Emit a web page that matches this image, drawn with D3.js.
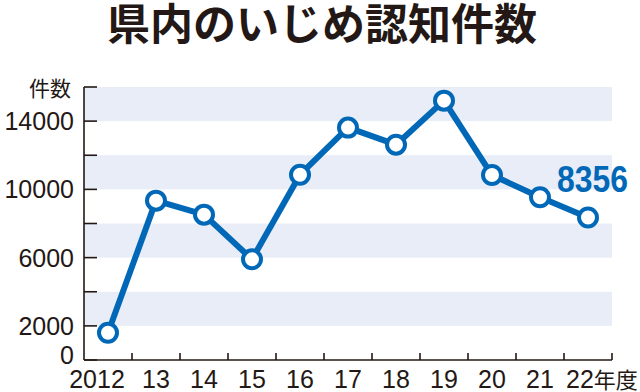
<!DOCTYPE html>
<html><head><meta charset="utf-8">
<script src="https://cdn.jsdelivr.net/npm/d3@7/dist/d3.min.js"></script>
<style>body{margin:0;background:#fff}svg{display:block}</style>
</head><body><svg id="c" width="640" height="392"></svg>
<script>
const titleText = "県内のいじめ認知件数";
const years = ["2012","13","14","15","16","17","18","19","20","21","22"];
const counts = [1600, 9340, 8520, 5900, 10860, 13620, 12620, 15200, 10840, 9540, 8356];
const yTicks = [0, 2000, 4000, 6000, 8000, 10000, 12000, 14000, 16000];
const yLabels = [0, 2000, 6000, 10000, 14000];
const bandStarts = [2000, 6000, 10000, 14000];
const bandSize = 2000;
const yUnit = "件数";
const xUnit = "年度";
const highlightLabel = "8356";

const ink = "#231815", blue = "#0068b7", band = "#e8edf7";
const svg = d3.select("#c");
const L = 84, R = 612, T = 87, B = 360;
const x = d3.scaleBand().domain(years).range([L, R]);
const y = d3.scaleLinear().domain([0, 16000]).range([B, T]);

svg.append("text").attr("x", 322).attr("y", 40).attr("text-anchor", "middle")
  .attr("font-family", "Noto Sans CJK JP").attr("font-weight", 700).attr("font-size", 43)
  .attr("fill", ink).text(titleText);

svg.append("g").selectAll("rect").data(bandStarts).join("rect")
  .attr("x", L).attr("width", R - L)
  .attr("y", d => y(d + bandSize)).attr("height", d => y(d) - y(d + bandSize))
  .attr("fill", band);

// y axis
const gy = svg.append("g");
gy.append("line").attr("x1", L).attr("x2", L).attr("y1", T).attr("y2", B).attr("stroke", ink).attr("stroke-width", 1.6);
gy.selectAll("line.t").data(yTicks).join("line").attr("class","t")
  .attr("x1", L).attr("x2", L + 13).attr("y1", d => y(d)).attr("y2", d => y(d))
  .attr("stroke", ink).attr("stroke-width", 1.6);
gy.selectAll("text").data(yLabels).join("text")
  .attr("x", 74).attr("y", d => y(d) + (d === 0 ? -5 : 0)).attr("dy", "0.36em")
  .attr("text-anchor", "end").attr("font-family", "Liberation Sans").attr("font-size", 25)
  .attr("fill", ink).text(d => d);
svg.append("text").attr("x", 71).attr("y", 96).attr("text-anchor", "end")
  .attr("font-family", "Noto Sans CJK JP").attr("font-size", 21).attr("fill", ink).text(yUnit);

// x axis
const gx = svg.append("g");
gx.append("line").attr("x1", L).attr("x2", R).attr("y1", B).attr("y2", B).attr("stroke", ink).attr("stroke-width", 1.6);
gx.selectAll("line.t").data(years).join("line").attr("class","t")
  .attr("x1", d => x(d) + x.bandwidth()).attr("x2", d => x(d) + x.bandwidth())
  .attr("y1", B).attr("y2", B - 7).attr("stroke", ink).attr("stroke-width", 1.6);
gx.selectAll("text").data(years).join("text")
  .attr("x", (d, i) => x(d) + x.bandwidth() / 2 + (i === 0 ? -11 : 0) + (i === years.length - 1 ? -22 : 0))
  .attr("y", 388)
  .attr("text-anchor", (d, i) => i === years.length - 1 ? "start" : "middle")
  .attr("font-family", "Liberation Sans").attr("font-size", 25).attr("fill", ink)
  .each(function(d, i) {
    const t = d3.select(this);
    t.append("tspan").text(d);
    if (i === years.length - 1) t.append("tspan").attr("font-family", "Noto Sans CJK JP").attr("font-size", 22).text(xUnit);
  });

// line
const cx = (d, i) => x(years[i]) + x.bandwidth() / 2;
svg.append("path").datum(counts)
  .attr("d", d3.line().x(cx).y(d => y(d)))
  .attr("fill", "none").attr("stroke", blue).attr("stroke-width", 6).attr("stroke-linejoin", "round");
svg.selectAll("circle").data(counts).join("circle")
  .attr("cx", cx).attr("cy", d => y(d)).attr("r", 9)
  .attr("fill", "#fff").attr("stroke", blue).attr("stroke-width", 4);

svg.append("text").attr("x", 557).attr("y", 192)
  .attr("font-family", "Liberation Sans").attr("font-weight", 700).attr("font-size", 37)
  .attr("textLength", 71).attr("lengthAdjust", "spacingAndGlyphs")
  .attr("fill", blue).text(highlightLabel);
</script></body></html>
